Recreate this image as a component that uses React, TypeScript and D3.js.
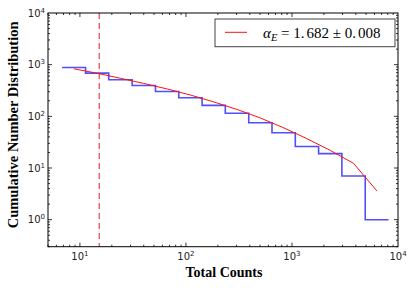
import React from 'react'
import * as d3 from 'd3'

// bin edges (Total Counts) and cumulative distribution per bin
const binEdges = [6.8, 11.3, 18.7, 31.1, 51.6, 85.6, 142, 235, 391, 648, 1075, 1783, 2958, 4908, 8142]
const binCounts = [883, 685, 510, 396, 303, 229, 163, 115, 75, 48, 26, 19, 7, 1]
// fitted curve at bin centres
const fitX = [8.77, 14.5, 24.1, 40.0, 66.4, 110, 183, 303, 503, 835, 1385, 2298, 3812, 6324]
const fitY = [833, 682, 546, 433, 339, 259, 190, 136, 93, 60, 36.9, 21.9, 12.3, 3.6]
const cutoff = 15.2
const xMajor = [1, 2, 3, 4]
const yMajor = [0, 1, 2, 3, 4]

const W = 415, H = 288
const L = 48, R = 398, T = 13, B = 246.7

export default function App() {
  const x = d3.scaleLog().domain([5, 1e4]).range([L, R])
  const y = d3.scaleLog().domain([0.3, 1e4]).range([B, T])

  const stepPts: [number, number][] = binCounts.map((c, i) => [binEdges[i], c])
  stepPts.push([binEdges[binEdges.length - 1], binCounts[binCounts.length - 1]])
  const step = d3.line<[number, number]>().x(d => x(d[0])).y(d => y(d[1])).curve(d3.curveStepAfter)
  const fit = d3.line<number>().x((d, i) => x(fitX[i])).y(d => y(d))

  const xMinor: number[] = []
  for (let e = 0; e < 4; e++) for (let m = 1; m < 10; m++) {
    const v = m * Math.pow(10, e)
    if (v >= 5 && v <= 1e4) xMinor.push(v)
  }
  const yMinor: number[] = []
  for (let e = -1; e < 4; e++) for (let m = 1; m < 10; m++) {
    const v = m * Math.pow(10, e)
    if (v >= 0.3 && v <= 1e4) yMinor.push(v)
  }

  return (
    <div style={{ position: 'absolute', left: 0, top: 0 }}>
      <svg width={W} height={H} style={{ display: 'block' }}>
        <rect width={W} height={H} fill="white" />
        {/* ticks */}
        <g stroke="#000" strokeWidth={0.8}>
          {xMinor.map((v, i) => {
            const len = Number.isInteger(Math.log10(v)) ? 4 : 2
            return (
              <g key={'xm' + i}>
                <line x1={x(v)} x2={x(v)} y1={B} y2={B - len} />
                <line x1={x(v)} x2={x(v)} y1={T} y2={T + len} />
              </g>
            )
          })}
          {yMinor.map((v, i) => {
            const len = Math.abs(Math.log10(v) - Math.round(Math.log10(v))) < 1e-9 ? 4 : 2
            return (
              <g key={'ym' + i}>
                <line x1={L} x2={L + len} y1={y(v)} y2={y(v)} />
                <line x1={R} x2={R - len} y1={y(v)} y2={y(v)} />
              </g>
            )
          })}
        </g>
        <line x1={x(cutoff)} x2={x(cutoff)} y1={T} y2={B} stroke="#d42020" strokeWidth={1} strokeDasharray="6,4" />
        <path d={step(stepPts) || ''} fill="none" stroke="#3030ff" strokeOpacity={0.85} strokeWidth={1.6} />
        <path d={fit(fitY) || ''} fill="none" stroke="#ff1010" strokeWidth={1} />
        <rect x={L} y={T} width={R - L} height={B - T} fill="none" stroke="#000" strokeWidth={1} />
        {/* tick labels */}
        <g fontFamily="DejaVu Sans" fontSize={10} fill="#222">
          {xMajor.map(e => (
            <text key={'xl' + e} x={x(Math.pow(10, e))} y={260} textAnchor="middle">
              10<tspan fontSize={7} dy={-4}>{e}</tspan>
            </text>
          ))}
          {yMajor.map(e => (
            <text key={'yl' + e} x={45} y={y(Math.pow(10, e)) + 3.5} textAnchor="end">
              10<tspan fontSize={7} dy={-4}>{e}</tspan>
            </text>
          ))}
        </g>
        <text x={224} y={277} textAnchor="middle" fontFamily="Liberation Serif" fontWeight="bold" fontSize={14}>Total Counts</text>
        <text transform={`translate(18,${(T + B) / 2 - 5}) rotate(-90)`} textAnchor="middle" fontFamily="Liberation Serif" fontWeight="bold" fontSize={14.5}>Cumulative Number Distribution</text>
        {/* legend */}
        <rect x={215} y={19} width={180} height={27.7} fill="white" stroke="#444" strokeWidth={1} />
        <line x1={225} x2={247} y1={32.3} y2={32.3} stroke="#ff1010" strokeWidth={1} />
        <text x={263} y={38} fontFamily="Liberation Serif" fontSize={15}>
          <tspan fontStyle="italic">α</tspan>
          <tspan fontStyle="italic" fontSize={10.5} dy={3}>E</tspan>
          <tspan dy={-3}> = 1.</tspan><tspan dx={2}>682 ± 0.</tspan><tspan dx={2}>008</tspan>
        </text>
      </svg>
    </div>
  )
}
